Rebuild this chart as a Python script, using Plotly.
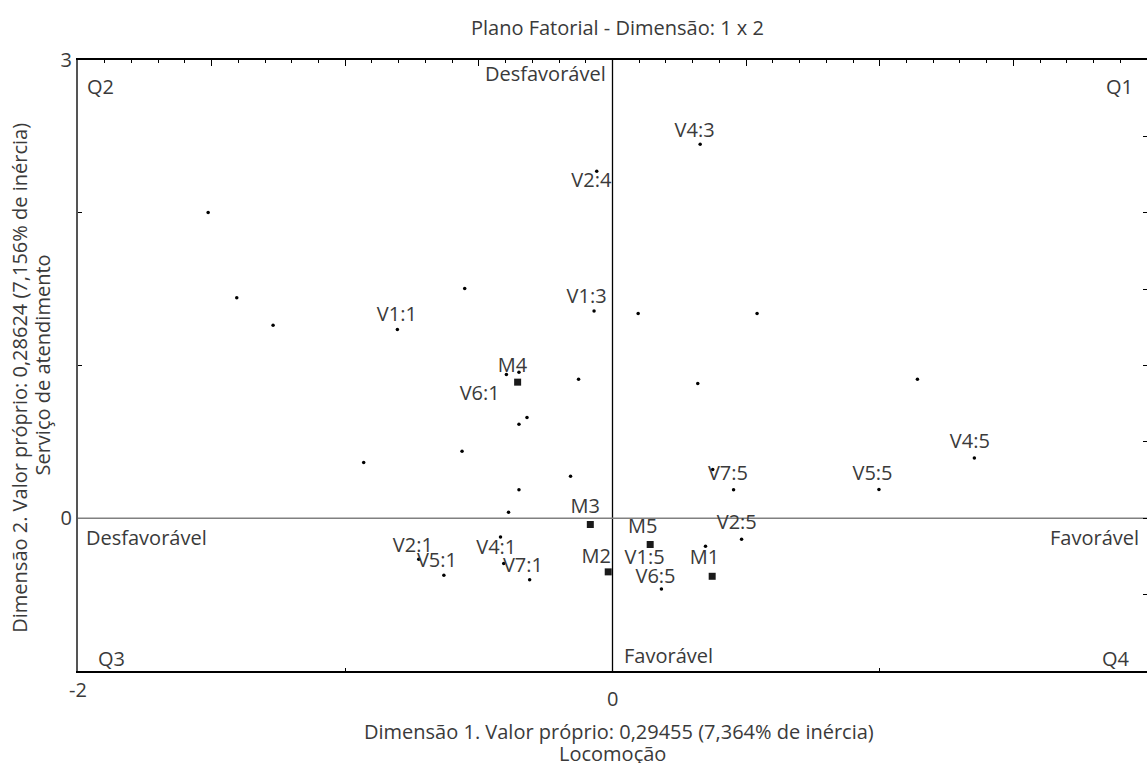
import plotly.graph_objects as go

# ---- data ----
dot_x = [-1.513, -1.406, -1.270, -0.805, -0.931, -0.553, -0.059, 0.328, -0.069, 0.096,
         0.541, -0.397, -0.350, -0.127, 0.319, -0.320, -0.350, -0.563, -0.157, -0.350,
         -0.389, 0.375, 0.453, 0.348, 0.483, 1.141, 1.354, 0.997, -0.725, -0.631,
         -0.419, -0.407, -0.310, 0.183]
dot_y = [2.002, 1.443, 1.264, 1.236, 0.365, 1.504, 2.272, 2.449, 1.356, 1.340,
         1.340, 0.941, 0.956, 0.910, 0.882, 0.659, 0.616, 0.439, 0.275, 0.186,
         0.039, 0.319, 0.186, -0.183, -0.138, 0.910, 0.395, 0.188, -0.268, -0.373,
         -0.122, -0.297, -0.402, -0.463]

mod_names = ["M1", "M2", "M3", "M4", "M5"]
mod_x = [0.373, -0.016, -0.083, -0.355, 0.141]
mod_y = [-0.380, -0.351, -0.041, 0.891, -0.172]

labels = ["V1:1", "V1:3", "V2:4", "V4:3", "M4", "V6:1", "V7:5", "M3", "M5", "V2:5",
          "V4:5", "V5:5", "V2:1", "V5:1", "V4:1", "V7:1", "M2", "V1:5", "M1", "V6:5"]
label_x = [-0.807, -0.097, -0.079, 0.307, -0.374, -0.497, 0.432, -0.102, 0.113, 0.465,
           1.337, 0.973, -0.747, -0.657, -0.435, -0.335, -0.061, 0.120, 0.344, 0.161]
label_y = [1.323, 1.441, 2.200, 2.528, 0.989, 0.806, 0.282, 0.064, -0.067, -0.039,
           0.493, 0.282, -0.188, -0.286, -0.203, -0.319, -0.257, -0.264, -0.264, -0.388]

title = "Plano Fatorial - Dimensão: 1 x 2"
x_title = ["Dimensão 1. Valor próprio: 0,29455 (7,364% de inércia)", "Locomoção"]
y_title = ["Dimensão 2. Valor próprio: 0,28624 (7,156% de inércia)", "Serviço de atendimento"]

FONT = "Open Sans"
TXT = "#3a3a3a"
FS = 20

fig = go.Figure()
fig.add_trace(go.Scatter(x=dot_x, y=dot_y, mode="markers",
                         marker=dict(color="black", size=3.5), showlegend=False, hoverinfo="skip"))
fig.add_trace(go.Scatter(x=mod_x, y=mod_y, mode="markers",
                         marker=dict(color="#1a1a1a", size=7, symbol="square"),
                         showlegend=False, hoverinfo="skip"))
fig.add_trace(go.Scatter(x=label_x, y=label_y, mode="text", text=labels,
                         textfont=dict(family=FONT, size=FS, color=TXT),
                         textposition="middle center", showlegend=False, hoverinfo="skip"))
# invisible trace to activate the secondary axes
fig.add_trace(go.Scatter(x=[-2], y=[-1], xaxis="x2", yaxis="y2", mode="markers",
                         marker=dict(opacity=0), showlegend=False, hoverinfo="skip"))

# zero lines
fig.add_shape(type="line", x0=0, x1=0, y0=-1, y1=3, xref="x", yref="y",
              line=dict(color="black", width=1.3), layer="below")
fig.add_shape(type="line", x0=-2, x1=2, y0=0, y1=0, xref="x", yref="y",
              line=dict(color="#808080", width=1.6), layer="below")

fig.update_layout(
    width=1147, height=763,
    margin=dict(l=78, r=0, t=60, b=92),
    paper_bgcolor="white", plot_bgcolor="white",
    font=dict(family=FONT, size=FS, color=TXT),
    xaxis=dict(range=[-2, 2], showgrid=False, zeroline=False,
               showline=True, linecolor="black", linewidth=2,
               tickmode="array", tickvals=[-2, 2], ticktext=["-2", "2"], ticks="",
               minor=dict(tickmode="array", tickvals=[-1, 1], ticks="inside", ticklen=3,
                          tickcolor="black"),
               tickfont=dict(size=FS, color=TXT)),
    yaxis=dict(range=[-1, 3], showgrid=False, zeroline=False,
               showline=True, linecolor="#555555", linewidth=2,
               tickmode="array", tickvals=[0, 3], ticktext=["0", "3"], ticks="",
               minor=dict(tickmode="array", tickvals=[1, 2], ticks="inside", ticklen=4,
                          tickcolor="black"),
               tickfont=dict(size=FS, color=TXT)),
    xaxis2=dict(range=[-2, 2], overlaying="x", side="top", showgrid=False, zeroline=False,
                showline=True, linecolor="black", linewidth=2,
                tickmode="linear", tick0=0, dtick=0.5, ticks="inside", ticklen=6,
                tickcolor="black", showticklabels=False,
                minor=dict(tick0=0, dtick=0.1, ticks="inside", ticklen=3, tickcolor="black")),
    yaxis2=dict(range=[-1, 3], overlaying="y", side="right", showgrid=False, zeroline=False,
                showline=False, tickmode="linear", tick0=0, dtick=0.5, ticks="inside",
                ticklen=4, tickcolor="black", showticklabels=False),
)

ann = []
def txt(x, y, s, xanchor="center", **kw):
    d = dict(x=x, y=y, xref="x", yref="y", text=s, showarrow=False, xanchor=xanchor,
             yanchor="middle", font=dict(family=FONT, size=FS, color=TXT))
    d.update(kw)
    ann.append(d)

txt(-1.974, 2.829, "Q2", "left")
txt(1.955, 2.829, "Q1", "right")
txt(-1.933, -0.915, "Q3", "left")
txt(1.944, -0.915, "Q4", "right")
txt(-0.015, 2.912, "Desfavorável", "right")
txt(-1.978, -0.124, "Desfavorável", "left")
txt(1.978, -0.124, "Favorável", "right")
txt(0.034, -0.897, "Favorável", "left")

# "0" tick label under the centre of the x axis
ann.append(dict(x=0, y=0, xref="x", yref="paper", text="0", showarrow=False,
                yanchor="middle", yshift=-27, font=dict(family=FONT, size=FS, color=TXT)))
# titles
ann.append(dict(x=0.02, y=1, xref="x", yref="paper", text=title, showarrow=False,
                yanchor="middle", yshift=33, font=dict(family=FONT, size=FS, color=TXT)))
ann.append(dict(x=0.025, y=0, xref="x", yref="paper", text=x_title[0], showarrow=False,
                yanchor="middle", yshift=-60, font=dict(family=FONT, size=FS, color=TXT)))
ann.append(dict(x=0.0, y=0, xref="x", yref="paper", text=x_title[1], showarrow=False,
                yanchor="middle", yshift=-82, font=dict(family=FONT, size=FS, color=TXT)))
ann.append(dict(x=0, y=0.48, xref="paper", yref="paper", text=y_title[0], showarrow=False,
                textangle=-90, xanchor="center", xshift=-58,
                font=dict(family=FONT, size=FS, color=TXT)))
ann.append(dict(x=0, y=0.5, xref="paper", yref="paper", text=y_title[1], showarrow=False,
                textangle=-90, xanchor="center", xshift=-36,
                font=dict(family=FONT, size=FS, color=TXT)))
fig.update_layout(annotations=ann)

fig.write_html("out.html", config={"displayModeBar": False},
               post_script="document.body.style.margin='0';document.body.style.overflow='hidden';")
